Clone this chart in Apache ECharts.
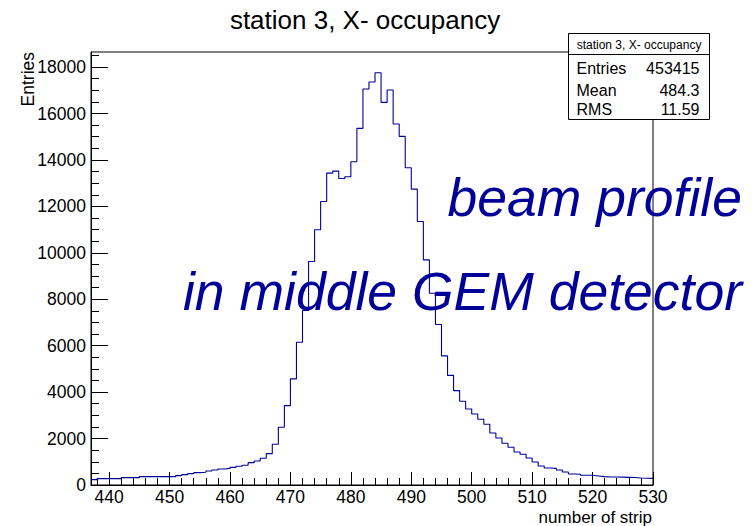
<!DOCTYPE html>
<html><head><meta charset="utf-8">
<script src="https://cdn.jsdelivr.net/npm/echarts@6/dist/echarts.min.js"></script>
<style>html,body{margin:0;padding:0;background:#fff}#c{width:756px;height:526px}</style>
</head><body><div id="c"></div>
<script>
const chartTitle = 'station 3, X- occupancy';
const xTitle = 'number of strip';
const yTitle = 'Entries';
const firstBin = 437;
const binWidth = 1;
const counts = [
  230, 273, 273, 273, 273, 316, 316, 316, 359, 359, 359, 359, 359, 359,
  402, 445, 489, 532, 546, 603, 647, 690, 718, 761, 805, 848, 963, 1034, 1149, 1351,
  1753, 2486, 3420, 4569, 6150, 7513, 9626, 10991, 12211,
  13434, 13520, 13204, 13276, 13922, 15359, 17054, 17356, 17759, 16480, 17011, 15546, 15014, 13664, 12744,
  11351, 9698, 8261, 6911, 5560, 4720, 4066,
  3606, 3276, 3060, 2830, 2615, 2241, 2026, 1796, 1624, 1422, 1322, 1164, 991,
  819, 733, 718, 647, 560, 474, 460, 417, 417, 388, 359, 345, 345, 340, 330, 320, 300, 290, 287
];
const xMin = 437, xMax = 530;
const yMin = 0, yMax = 18650;
const xMajorTicks = [440, 450, 460, 470, 480, 490, 500, 510, 520, 530];
const yMajorTicks = [0, 2000, 4000, 6000, 8000, 10000, 12000, 14000, 16000, 18000];
const xMinorStep = 2, yMinorStep = 500;
const statNames = ['Entries', 'Mean', 'RMS'];
const statValues = ['453415', '484.3', '11.59'];
const annotationLines = ['beam profile', 'in middle GEM detector'];

const xMinorTicks = [];
for (let v = xMin + 1; v < xMax; v += xMinorStep) if (xMajorTicks.indexOf(v) < 0) xMinorTicks.push(v);
const yMinorTicks = [];
for (let v = yMinorStep; v < yMax; v += yMinorStep) if (yMajorTicks.indexOf(v) < 0) yMinorTicks.push(v);

const stepData = counts.map((v, i) => [firstBin + i * binWidth, v]);
stepData.push([firstBin + counts.length * binWidth, counts[counts.length - 1]]);

const FONT = 'Liberation Sans, Arial, Helvetica, sans-serif';
const BLACK = '#000';
const NAVY = '#000099';
const gridRect = {left: 91, right: 103, top: 52, bottom: 41};
const plain = v => String(v);

const chart = echarts.init(document.getElementById('c'), null, {renderer: 'svg'});
chart.setOption({
  animation: false,
  backgroundColor: '#fff',
  grid: [
    Object.assign({show: true, borderColor: BLACK, borderWidth: 1, backgroundColor: 'transparent'}, gridRect),
    Object.assign({show: false}, gridRect)
  ],
  xAxis: [
    {gridIndex: 0, type: 'value', min: xMin, max: xMax, position: 'bottom',
     axisLine: {show: true, onZero: false, lineStyle: {color: BLACK, width: 1}},
     axisTick: {show: true, inside: true, length: 13, customValues: xMajorTicks, lineStyle: {color: BLACK}},
     axisLabel: {show: true, customValues: xMajorTicks, formatter: plain, margin: 3, fontSize: 17.5, color: BLACK, fontFamily: FONT},
     splitLine: {show: false}},
    {gridIndex: 1, type: 'value', min: xMin, max: xMax, position: 'bottom',
     axisLine: {show: false, onZero: false},
     axisTick: {show: true, inside: true, length: 7, customValues: xMinorTicks, lineStyle: {color: BLACK}},
     axisLabel: {show: false}, splitLine: {show: false}}
  ],
  yAxis: [
    {gridIndex: 0, type: 'value', min: yMin, max: yMax, position: 'left',
     axisLine: {show: true, onZero: false, lineStyle: {color: BLACK, width: 1}},
     axisTick: {show: true, inside: true, length: 17, customValues: yMajorTicks, lineStyle: {color: BLACK}},
     axisLabel: {show: true, customValues: yMajorTicks, formatter: plain, margin: 5, fontSize: 17.5, color: BLACK, fontFamily: FONT},
     splitLine: {show: false}},
    {gridIndex: 1, type: 'value', min: yMin, max: yMax, position: 'left',
     axisLine: {show: false, onZero: false},
     axisTick: {show: true, inside: true, length: 8, customValues: yMinorTicks, lineStyle: {color: BLACK}},
     axisLabel: {show: false}, splitLine: {show: false}}
  ],
  series: [{
    type: 'line', xAxisIndex: 0, yAxisIndex: 0, step: 'end', symbol: 'none',
    data: stepData, lineStyle: {color: NAVY, width: 1.1}, silent: true
  }],
  graphic: [
    {type: 'text', x: 365, y: 19.5, style: {text: chartTitle, fontSize: 26, fontFamily: FONT, fill: BLACK, align: 'center', verticalAlign: 'middle'}},
    {type: 'text', x: 27.5, y: 52, rotation: Math.PI / 2, style: {text: yTitle, fontSize: 17.5, fontFamily: FONT, fill: BLACK, align: 'right', verticalAlign: 'middle'}},
    {type: 'text', x: 652, y: 517.5, style: {text: xTitle, fontSize: 17, fontFamily: FONT, fill: BLACK, align: 'right', verticalAlign: 'middle'}},
    {type: 'text', x: 742, y: 197, z: 10, style: {text: annotationLines[0], fontSize: 53.5, fontStyle: 'italic', fontFamily: FONT, fill: NAVY, align: 'right', verticalAlign: 'middle'}},
    {type: 'text', x: 742, y: 291, z: 10, style: {text: annotationLines[1], fontSize: 53.5, fontStyle: 'italic', fontFamily: FONT, fill: NAVY, align: 'right', verticalAlign: 'middle'}},
    {type: 'group', z: 20, children: [
      {type: 'rect', shape: {x: 568.5, y: 33.5, width: 141, height: 86}, style: {fill: '#fff', stroke: BLACK, lineWidth: 1}},
      {type: 'line', shape: {x1: 568.5, y1: 54.5, x2: 709.5, y2: 54.5}, style: {stroke: BLACK, lineWidth: 1}},
      {type: 'text', x: 639, y: 44.5, style: {text: chartTitle, fontSize: 12, fontFamily: FONT, fill: BLACK, align: 'center', verticalAlign: 'middle'}},
      {type: 'text', x: 576.5, y: 68, style: {text: statNames[0], fontSize: 16, fontFamily: FONT, fill: BLACK, align: 'left', verticalAlign: 'middle'}},
      {type: 'text', x: 699.5, y: 68, style: {text: statValues[0], fontSize: 16, fontFamily: FONT, fill: BLACK, align: 'right', verticalAlign: 'middle'}},
      {type: 'text', x: 576.5, y: 90, style: {text: statNames[1], fontSize: 16, fontFamily: FONT, fill: BLACK, align: 'left', verticalAlign: 'middle'}},
      {type: 'text', x: 699.5, y: 90, style: {text: statValues[1], fontSize: 16, fontFamily: FONT, fill: BLACK, align: 'right', verticalAlign: 'middle'}},
      {type: 'text', x: 576.5, y: 109, style: {text: statNames[2], fontSize: 16, fontFamily: FONT, fill: BLACK, align: 'left', verticalAlign: 'middle'}},
      {type: 'text', x: 699.5, y: 109, style: {text: statValues[2], fontSize: 16, fontFamily: FONT, fill: BLACK, align: 'right', verticalAlign: 'middle'}}
    ]}
  ]
});
</script></body></html>
